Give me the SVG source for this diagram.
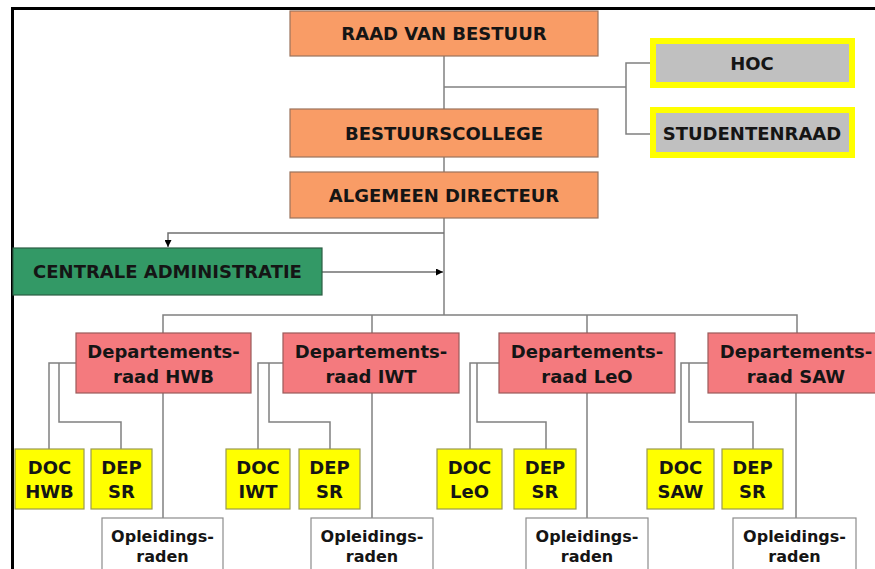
<svg xmlns="http://www.w3.org/2000/svg" width="875" height="569" viewBox="0 0 875 569">
<style>
  text { font-family: "DejaVu Sans", Verdana, sans-serif; font-weight: bold; fill: #151515; text-anchor: middle; }
  .t18 { font-size: 18px; }
  .t16 { font-size: 16px; }
  .orange { fill: #F99C66; stroke: #9a735c; stroke-width: 1.2; }
  .pink { fill: #F47A7E; stroke: #9a5a5a; stroke-width: 1.2; }
  .green { fill: #339966; stroke: #2c5e44; stroke-width: 1.2; }
  .grey { fill: #C0C0C0; stroke: #FFFF00; stroke-width: 6; }
  .yellow { fill: #FFFF00; stroke: #9a9a50; stroke-width: 1.2; }
  .white { fill: #FFFFFF; stroke: #8c8c8c; stroke-width: 1.2; }
  .conn { fill: none; stroke: #808080; stroke-width: 1.5; }
  .arr { fill: none; stroke: #707070; stroke-width: 1.5; }
</style>
<defs>
  <marker id="ah" viewBox="0 0 10 10" refX="10" refY="5" markerWidth="7" markerHeight="7" markerUnits="userSpaceOnUse" orient="auto">
    <path d="M0,0 L10,5 L0,10 Z" fill="#000"/>
  </marker>
</defs>
<rect x="0" y="0" width="875" height="569" fill="#FFFFFF"/>
<g id="frame">
  <path d="M12.5,569 L12.5,8.5 L875,8.5" fill="none" stroke="#000" stroke-width="3"/>
</g>
<g id="connectors">
  <path class="conn" d="M444,56 L444,315"/>
  <path class="conn" d="M444,87 L626,87"/>
  <path class="conn" d="M650,63 L626,63 L626,134 L650,134"/>
  <path class="arr" d="M444,233 L168,233 L168,247" marker-end="url(#ah)"/>
  <path class="arr" d="M322,272 L443,272" marker-end="url(#ah)"/>
  <path class="conn" d="M163,333 L163,315 L797,315 L797,333"/>
  <path class="conn" d="M372,315 L372,333"/>
  <path class="conn" d="M587,315 L587,333"/>
  <!-- HWB -->
  <path class="conn" d="M76,363 L49,363 L49,449"/>
  <path class="conn" d="M59,363 L59,422 L121,422 L121,449"/>
  <path class="conn" d="M163,393 L163,518"/>
  <!-- IWT -->
  <path class="conn" d="M283,363 L258,363 L258,449"/>
  <path class="conn" d="M269,363 L269,422 L330,422 L330,449"/>
  <path class="conn" d="M372,393 L372,518"/>
  <!-- LeO -->
  <path class="conn" d="M499,363 L470,363 L470,449"/>
  <path class="conn" d="M477,363 L477,422 L546,422 L546,449"/>
  <path class="conn" d="M587,393 L587,518"/>
  <!-- SAW -->
  <path class="conn" d="M708,363 L681,363 L681,449"/>
  <path class="conn" d="M689,363 L689,422 L753,422 L753,449"/>
  <path class="conn" d="M796,393 L796,518"/>
</g>
<g id="raad-van-bestuur">
  <rect class="orange" x="290" y="11" width="308" height="45"/>
  <text class="t18" x="444" y="40">RAAD VAN BESTUUR</text>
</g>
<g id="hoc">
  <rect class="grey" x="653" y="41" width="199" height="44"/>
  <text class="t18" x="752" y="70">HOC</text>
</g>
<g id="studentenraad">
  <rect class="grey" x="653" y="110" width="199" height="45"/>
  <text class="t18" x="752" y="139.5">STUDENTENRAAD</text>
</g>
<g id="bestuurscollege">
  <rect class="orange" x="290" y="109" width="308" height="48"/>
  <text class="t18" x="444" y="139.5">BESTUURSCOLLEGE</text>
</g>
<g id="algemeen-directeur">
  <rect class="orange" x="290" y="172" width="308" height="46"/>
  <text class="t18" x="444" y="201.5">ALGEMEEN DIRECTEUR</text>
</g>
<g id="centrale-administratie">
  <rect class="green" x="13" y="248" width="309" height="47"/>
  <text class="t18" x="167.5" y="278">CENTRALE ADMINISTRATIE</text>
</g>
<g id="dep-hwb">
  <rect class="pink" x="76" y="333" width="175" height="60"/>
  <text class="t18" x="163.5" y="358">Departements-</text>
  <text class="t18" x="163.5" y="383">raad HWB</text>
</g>
<g id="dep-iwt">
  <rect class="pink" x="283" y="333" width="176" height="60"/>
  <text class="t18" x="371" y="358">Departements-</text>
  <text class="t18" x="371" y="383">raad IWT</text>
</g>
<g id="dep-leo">
  <rect class="pink" x="499" y="333" width="176" height="60"/>
  <text class="t18" x="587" y="358">Departements-</text>
  <text class="t18" x="587" y="383">raad LeO</text>
</g>
<g id="dep-saw">
  <rect class="pink" x="708" y="333" width="176" height="60"/>
  <text class="t18" x="796" y="358">Departements-</text>
  <text class="t18" x="796" y="383">raad SAW</text>
</g>
<g id="doc-hwb">
  <rect class="yellow" x="15" y="449" width="69" height="60"/>
  <text class="t18" x="49.5" y="474">DOC</text>
  <text class="t18" x="49.5" y="498">HWB</text>
</g>
<g id="dep-sr-hwb">
  <rect class="yellow" x="91" y="449" width="61" height="60"/>
  <text class="t18" x="121.5" y="474">DEP</text>
  <text class="t18" x="121.5" y="498">SR</text>
</g>
<g id="opl-hwb">
  <rect class="white" x="102" y="518" width="121" height="60"/>
  <text class="t16" x="162.5" y="542">Opleidings-</text>
  <text class="t16" x="162.5" y="562">raden</text>
</g>
<g id="doc-iwt">
  <rect class="yellow" x="226" y="449" width="64" height="60"/>
  <text class="t18" x="258" y="474">DOC</text>
  <text class="t18" x="258" y="498">IWT</text>
</g>
<g id="dep-sr-iwt">
  <rect class="yellow" x="299" y="449" width="61" height="60"/>
  <text class="t18" x="329.5" y="474">DEP</text>
  <text class="t18" x="329.5" y="498">SR</text>
</g>
<g id="opl-iwt">
  <rect class="white" x="311" y="518" width="122" height="60"/>
  <text class="t16" x="372" y="542">Opleidings-</text>
  <text class="t16" x="372" y="562">raden</text>
</g>
<g id="doc-leo">
  <rect class="yellow" x="437" y="449" width="65" height="60"/>
  <text class="t18" x="469.5" y="474">DOC</text>
  <text class="t18" x="469.5" y="498">LeO</text>
</g>
<g id="dep-sr-leo">
  <rect class="yellow" x="514" y="449" width="62" height="60"/>
  <text class="t18" x="545" y="474">DEP</text>
  <text class="t18" x="545" y="498">SR</text>
</g>
<g id="opl-leo">
  <rect class="white" x="526" y="518" width="122" height="60"/>
  <text class="t16" x="587" y="542">Opleidings-</text>
  <text class="t16" x="587" y="562">raden</text>
</g>
<g id="doc-saw">
  <rect class="yellow" x="647" y="449" width="67" height="60"/>
  <text class="t18" x="680.5" y="474">DOC</text>
  <text class="t18" x="680.5" y="498">SAW</text>
</g>
<g id="dep-sr-saw">
  <rect class="yellow" x="722" y="449" width="61" height="60"/>
  <text class="t18" x="752.5" y="474">DEP</text>
  <text class="t18" x="752.5" y="498">SR</text>
</g>
<g id="opl-saw">
  <rect class="white" x="733" y="518" width="123" height="60"/>
  <text class="t16" x="794.5" y="542">Opleidings-</text>
  <text class="t16" x="794.5" y="562">raden</text>
</g>
</svg>
